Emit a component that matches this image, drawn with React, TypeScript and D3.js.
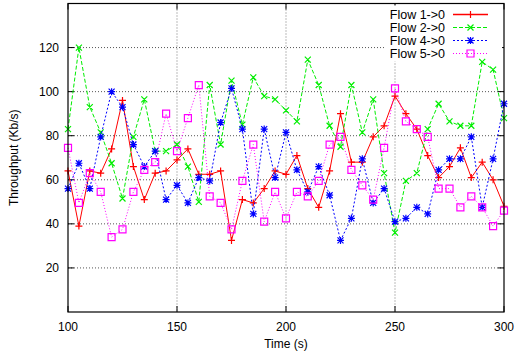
import React, { useEffect, useRef } from 'react';
import * as d3 from 'd3';

const times = [
  100, 105, 110, 115, 120, 125, 130, 135, 140, 145, 150, 155, 160, 165, 170, 175, 180, 185, 190, 195, 200,
  205, 210, 215, 220, 225, 230, 235, 240, 245, 250, 255, 260, 265, 270, 275, 280, 285, 290, 295, 300
];

const flow1 = [
  64, 39, 64, 63, 74, 96, 66, 51, 63, 64, 69, 74, 62.5, 62.5, 64, 32.5, 51, 49.5, 56, 64, 62.5,
  71, 56, 47.5, 64, 90, 68, 68, 79.5, 84.5, 98, 90, 83, 71, 61, 66, 74.5, 61, 68, 60, 48
];
const flow2 = [
  83, 120, 93, 81.5, 67.5, 51.5, 79.5, 96.5, 73, 73, 76, 66, 50, 103, 76, 105, 85, 106.5, 98, 96.5, 91.5,
  86.5, 114.5, 103, 84.5, 75, 103, 81.5, 96.5, 63, 36, 59.5, 63, 83, 94.5, 86.5, 84.5, 84.5, 113.5, 110, 88
];
const flow4 = [
  56, 67.5, 56, 79.5, 100, 93, 76, 66, 73, 51, 57.5, 49.5, 61, 59.5, 86, 101.5, 83, 44.5, 83, 61, 81.5,
  64.5, 54.5, 66, 53, 32.5, 42.5, 69.5, 49.5, 56, 41, 42.5, 47.5, 44.5, 64.5, 69.5, 69.5, 79.5, 47.5, 69.5, 94.5
];
const flow5 = [
  74.5, 49.5, 63, 54.5, 34, 37.5, 54.5, 64.5, 68, 90, 73, 88, 103, 52.5, 49.5, 37.5, 59.5, 76, 41, 54.5, 42.5,
  54.5, 52.5, 59.5, 76, 79.5, 64.5, 57.5, 51, 74.5, 101.5, 86.5, 83, 79.5, 56, 56, 47.5, 52.5, 47.5, 39, 46
];

const seriesNames = ['Flow 1->0', 'Flow 2->0', 'Flow 4->0', 'Flow 5->0'];
const xTicks = [100, 150, 200, 250, 300];
const yTicks = [20, 40, 60, 80, 100, 120];

type Marker = 'plus' | 'cross' | 'star' | 'square';

const styles: { color: string; dash: string | null; marker: Marker }[] = [
  { color: '#ff0000', dash: null, marker: 'plus' },
  { color: '#00ee00', dash: '4,2', marker: 'cross' },
  { color: '#0000ff', dash: '2,2', marker: 'star' },
  { color: '#ff00ff', dash: '1,2', marker: 'square' }
];

const WIDTH = 516;
const HEIGHT = 358;
const margin = { top: 3.5, right: 12, bottom: 46, left: 68 };
const FONT = '"Liberation Sans", Arial, sans-serif';

// marker path centred on x,y
const markerPath = (type: Marker, x: number, y: number) => {
  const s = 3.5;
  const d = 3;
  const plus = `M${x - s},${y}H${x + s}M${x},${y - s}V${y + s}`;
  const cross = `M${x - d},${y - d}L${x + d},${y + d}M${x - d},${y + d}L${x + d},${y - d}`;
  if (type === 'plus') return plus;
  if (type === 'cross') return cross;
  if (type === 'star') return plus + cross;
  return `M${x - s},${y - s}H${x + s}V${y + s}H${x - s}Z`;
};

const App: React.FC = () => {
  const svgRef = useRef<SVGSVGElement>(null);

  useEffect(() => {
    if (!svgRef.current) return;
    const svg = d3.select(svgRef.current);
    svg.selectAll('*').remove();

    const chartWidth = WIDTH - margin.left - margin.right;
    const chartHeight = HEIGHT - margin.top - margin.bottom;

    const xScale = d3.scaleLinear().domain([100, 300]).range([0, chartWidth]);
    const yScale = d3.scaleLinear().domain([0, 140]).range([chartHeight, 0]);

    const g = svg.append('g').attr('transform', `translate(${margin.left},${margin.top})`);

    // grid
    xTicks.slice(1, -1).forEach(t => {
      g.append('line')
        .attr('x1', xScale(t)).attr('x2', xScale(t))
        .attr('y1', 0).attr('y2', chartHeight)
        .attr('stroke', '#777').attr('stroke-width', 1)
        .attr('stroke-dasharray', '1,2');
    });
    yTicks.forEach(t => {
      g.append('line')
        .attr('x1', 0).attr('x2', chartWidth)
        .attr('y1', yScale(t)).attr('y2', yScale(t))
        .attr('stroke', '#555').attr('stroke-width', 1)
        .attr('stroke-dasharray', '1,2');
    });

    // tick marks on all four sides
    const tickLen = 6;
    xTicks.forEach(t => {
      const x = xScale(t);
      g.append('line').attr('x1', x).attr('x2', x).attr('y1', chartHeight).attr('y2', chartHeight - tickLen).attr('stroke', '#000');
      g.append('line').attr('x1', x).attr('x2', x).attr('y1', 0).attr('y2', tickLen).attr('stroke', '#000');
    });
    yTicks.forEach(t => {
      const y = yScale(t);
      g.append('line').attr('x1', 0).attr('x2', tickLen).attr('y1', y).attr('y2', y).attr('stroke', '#000');
      g.append('line').attr('x1', chartWidth).attr('x2', chartWidth - tickLen).attr('y1', y).attr('y2', y).attr('stroke', '#000');
    });

    // tick labels
    xTicks.forEach(t => {
      g.append('text')
        .attr('x', xScale(t))
        .attr('y', chartHeight + 19)
        .attr('text-anchor', 'middle')
        .style('font-family', FONT)
        .style('font-size', '12px')
        .text(t);
    });
    yTicks.forEach(t => {
      g.append('text')
        .attr('x', -9)
        .attr('y', yScale(t))
        .attr('dy', '0.35em')
        .attr('text-anchor', 'end')
        .style('font-family', FONT)
        .style('font-size', '12px')
        .text(t);
    });

    // axis titles
    svg.append('text')
      .attr('x', margin.left + chartWidth / 2)
      .attr('y', 348)
      .attr('text-anchor', 'middle')
      .style('font-family', FONT)
      .style('font-size', '12px')
      .text('Time (s)');
    svg.append('text')
      .attr('transform', `translate(18,${margin.top + chartHeight / 2}) rotate(-90)`)
      .attr('text-anchor', 'middle')
      .style('font-family', FONT)
      .style('font-size', '12px')
      .text('Throughput (Kb/s)');

    // legend background hides grid
    g.append('rect')
      .attr('x', 318).attr('y', 2)
      .attr('width', chartWidth - 320).attr('height', 56)
      .attr('fill', '#fff');

    const allSeries = [flow1, flow2, flow4, flow5];
    const line = d3.line<number>()
      .x((_, i) => xScale(times[i]))
      .y(d => yScale(d));

    allSeries.forEach((values, si) => {
      const st = styles[si];
      g.append('path')
        .datum(values)
        .attr('d', line)
        .attr('fill', 'none')
        .attr('stroke', st.color)
        .attr('stroke-width', 1)
        .attr('stroke-dasharray', st.dash);
      g.append('path')
        .attr('d', values.map((v, i) => markerPath(st.marker, xScale(times[i]), yScale(v))).join(''))
        .attr('fill', 'none')
        .attr('stroke', st.color)
        .attr('stroke-width', 1.2);
    });

    // legend
    seriesNames.forEach((name, i) => {
      const st = styles[i];
      const ly = 11 + i * 13;
      g.append('text')
        .attr('x', 377)
        .attr('y', ly)
        .attr('dy', '0.35em')
        .attr('text-anchor', 'end')
        .style('font-family', FONT)
        .style('font-size', '12.5px')
        .text(name);
      g.append('line')
        .attr('x1', 385).attr('x2', 420)
        .attr('y1', ly).attr('y2', ly)
        .attr('stroke', st.color)
        .attr('stroke-width', i === 0 ? 1.6 : 1)
        .attr('stroke-dasharray', st.dash);
      g.append('path')
        .attr('d', markerPath(st.marker, 402.5, ly))
        .attr('fill', 'none')
        .attr('stroke', st.color)
        .attr('stroke-width', 1.2);
    });

    // border
    g.append('rect')
      .attr('x', 0).attr('y', 0)
      .attr('width', chartWidth).attr('height', chartHeight)
      .attr('fill', 'none')
      .attr('stroke', '#000')
      .attr('stroke-width', 1.2);
  }, []);

  return (
    <svg
      ref={svgRef}
      width={WIDTH}
      height={HEIGHT}
      style={{ position: 'absolute', left: 0, top: 0, background: '#fff' }}
    />
  );
};

export default App;
